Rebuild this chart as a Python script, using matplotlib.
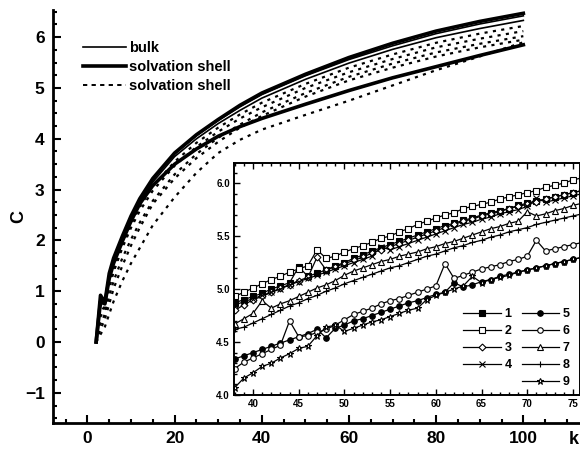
import numpy as np
import matplotlib
matplotlib.use("Agg")
import matplotlib.pyplot as plt
from matplotlib.lines import Line2D
from matplotlib.ticker import MultipleLocator

plt.rcParams['font.family'] = ['Liberation Sans', 'DejaVu Sans']
plt.rcParams['font.weight'] = 'bold'

# main plot: k grid and curves
k_main = [2, 3, 4, 5, 6, 8, 10, 12, 15, 20, 25, 30, 35, 40, 50, 60, 70, 80, 90, 100]
thick_a = [0, 0.92, 0.78, 1.35, 1.65, 2.08, 2.48, 2.82, 3.22, 3.72, 4.08, 4.38, 4.66, 4.90, 5.27, 5.60, 5.88, 6.12, 6.31, 6.47]
thin_a = [0, 0.85, 0.80, 1.30, 1.60, 2.05, 2.45, 2.80, 3.20, 3.70, 4.06, 4.36, 4.63, 4.87, 5.24, 5.56, 5.83, 6.07, 6.26, 6.42]
thin_b = [0, 0.70, 0.85, 1.25, 1.55, 2.00, 2.40, 2.75, 3.15, 3.65, 4.00, 4.30, 4.56, 4.80, 5.17, 5.49, 5.76, 5.99, 6.17, 6.33]
dot_a = [0, 0.60, 0.70, 1.15, 1.45, 1.92, 2.32, 2.66, 3.06, 3.55, 3.92, 4.22, 4.48, 4.71, 5.08, 5.40, 5.66, 5.89, 6.07, 6.22]
dot_b = [0, 0.50, 0.65, 1.05, 1.38, 1.85, 2.25, 2.58, 2.98, 3.47, 3.84, 4.14, 4.40, 4.62, 5.00, 5.31, 5.57, 5.80, 5.97, 6.12]
dot_c = [0, 0.35, 0.55, 0.90, 1.20, 1.65, 2.02, 2.35, 2.78, 3.30, 3.70, 4.02, 4.28, 4.52, 4.90, 5.22, 5.48, 5.70, 5.87, 6.02]
dot_d = [0, 0.25, 0.45, 0.75, 1.05, 1.50, 1.90, 2.25, 2.72, 3.22, 3.62, 3.94, 4.22, 4.45, 4.83, 5.15, 5.40, 5.62, 5.80, 5.95]
thick_b = [0, 0.80, 0.75, 1.25, 1.55, 1.98, 2.38, 2.72, 3.08, 3.50, 3.80, 4.05, 4.24, 4.40, 4.68, 4.95, 5.20, 5.42, 5.64, 5.85]
dot_e = [0, 0.15, 0.30, 0.55, 0.80, 1.20, 1.55, 1.85, 2.30, 2.85, 3.33, 3.72, 3.98, 4.18, 4.47, 4.75, 5.05, 5.35, 5.62, 5.90]

# inset: k = 38..76
k_ins = list(range(38, 77))
s1 = [4.87, 4.90, 4.93, 4.96, 5.00, 5.03, 5.06, 5.21, 5.12, 5.15, 5.18, 5.22, 5.25, 5.29, 5.32, 5.36, 5.39, 5.42, 5.45, 5.48,
      5.51, 5.54, 5.57, 5.60, 5.62, 5.65, 5.67, 5.70, 5.72, 5.74, 5.76, 5.79, 5.81, 5.83, 5.85, 5.87, 5.89, 5.91, 5.93]
s2 = [4.93, 4.97, 5.01, 5.05, 5.09, 5.12, 5.16, 5.19, 5.22, 5.37, 5.29, 5.31, 5.35, 5.38, 5.41, 5.44, 5.48, 5.50, 5.54, 5.57,
      5.61, 5.64, 5.67, 5.70, 5.72, 5.76, 5.78, 5.80, 5.82, 5.85, 5.87, 5.89, 5.91, 5.93, 5.96, 5.98, 6.00, 6.03, 6.05]
s3 = [4.80, 4.85, 4.90, 4.93, 4.97, 5.01, 5.04, 5.08, 5.11, 5.30, 5.18, 5.21, 5.24, 5.27, 5.30, 5.34, 5.37, 5.40, 5.43, 5.46,
      5.49, 5.52, 5.55, 5.58, 5.61, 5.64, 5.66, 5.69, 5.71, 5.73, 5.76, 5.78, 5.80, 5.82, 5.85, 5.87, 5.89, 5.91, 5.93]
s4 = [4.85, 4.88, 4.91, 4.94, 4.97, 5.00, 5.04, 5.07, 5.10, 5.13, 5.16, 5.19, 5.22, 5.25, 5.28, 5.31, 5.40, 5.37, 5.40, 5.43,
      5.46, 5.49, 5.52, 5.55, 5.58, 5.61, 5.63, 5.66, 5.68, 5.71, 5.73, 5.75, 5.78, 5.86, 5.82, 5.84, 5.86, 5.88, 5.90]
s5 = [4.34, 4.37, 4.40, 4.43, 4.46, 4.49, 4.52, 4.55, 4.58, 4.62, 4.54, 4.63, 4.66, 4.70, 4.72, 4.75, 4.78, 4.81, 4.84, 4.87,
      4.89, 4.92, 4.95, 4.97, 5.06, 5.02, 5.04, 5.07, 5.09, 5.12, 5.14, 5.16, 5.18, 5.20, 5.22, 5.24, 5.26, 5.28, 5.30]
s6 = [4.25, 4.31, 4.35, 4.39, 4.43, 4.47, 4.70, 4.55, 4.56, 4.59, 4.62, 4.66, 4.71, 4.76, 4.79, 4.82, 4.86, 4.89, 4.91, 4.94,
      4.97, 5.00, 5.03, 5.24, 5.10, 5.13, 5.16, 5.19, 5.21, 5.23, 5.26, 5.28, 5.31, 5.46, 5.36, 5.38, 5.40, 5.42, 5.44]
s7 = [4.67, 4.72, 4.77, 4.89, 4.82, 4.86, 4.89, 4.93, 4.97, 5.01, 5.04, 5.08, 5.13, 5.17, 5.20, 5.23, 5.26, 5.28, 5.31, 5.33,
      5.35, 5.38, 5.40, 5.43, 5.45, 5.48, 5.51, 5.54, 5.57, 5.59, 5.62, 5.64, 5.73, 5.69, 5.71, 5.74, 5.76, 5.79, 5.81]
s8 = [4.62, 4.64, 4.68, 4.72, 4.76, 4.80, 4.84, 4.87, 4.91, 4.94, 4.98, 5.01, 5.05, 5.08, 5.11, 5.14, 5.17, 5.20, 5.22, 5.25,
      5.28, 5.31, 5.33, 5.36, 5.39, 5.41, 5.44, 5.46, 5.49, 5.51, 5.54, 5.56, 5.58, 5.61, 5.63, 5.65, 5.67, 5.69, 5.71]
s9 = [4.07, 4.16, 4.21, 4.27, 4.30, 4.35, 4.39, 4.44, 4.46, 4.56, 4.64, 4.66, 4.60, 4.63, 4.66, 4.69, 4.71, 4.74, 4.77, 4.80,
      4.82, 4.90, 4.94, 4.97, 5.00, 5.03, 5.12, 5.06, 5.09, 5.11, 5.13, 5.16, 5.18, 5.20, 5.22, 5.24, 5.26, 5.28, 5.30]

ins_series = [s1, s2, s3, s4, s5, s6, s7, s8, s9]
ins_labels = ['1', '2', '3', '4', '5', '6', '7', '8', '9']
ins_markers = ['s', 's', 'D', 'x', 'o', 'o', '^', '+', '*']
ins_filled = [True, False, False, True, True, False, False, True, False]

fig = plt.figure(figsize=(5.8, 4.53), dpi=100)
ax = fig.add_axes([53/580, 30/453, 1 - 53/580, 413/453])

dotted = (0, (1.4, 2.4))
for ys in [dot_a, dot_b, dot_c, dot_d, dot_e]:
    ax.plot(k_main, ys, color='k', lw=1.6, ls=dotted)
ax.plot(k_main, thin_a, color='k', lw=1.2)
ax.plot(k_main, thin_b, color='k', lw=1.2)
ax.plot(k_main, thick_a, color='k', lw=2.6)
ax.plot(k_main, thick_b, color='k', lw=2.6)

ax.set_xlim(-7.9, 113)
ax.set_ylim(-1.594, 6.535)
ax.set_xticks([0, 20, 40, 60, 80, 100])
ax.set_yticks([-1, 0, 1, 2, 3, 4, 5, 6])
ax.xaxis.set_minor_locator(MultipleLocator(5))
ax.yaxis.set_minor_locator(MultipleLocator(0.25))
ax.spines['top'].set_visible(False)
ax.spines['right'].set_visible(False)
ax.spines['left'].set_linewidth(2)
ax.spines['bottom'].set_linewidth(2)
ax.tick_params(which='both', direction='in', width=1.5, labelsize=12.5)
ax.tick_params(which='major', length=6, pad=6)
ax.tick_params(which='minor', length=3)
for t in ax.get_xticklabels() + ax.get_yticklabels():
    t.set_fontweight('bold')
ax.set_ylabel('C', fontsize=13, fontweight='bold', labelpad=-2)
fig.text(574/580, 1 - 440/453, 'k', fontsize=13, fontweight='bold', ha='center', va='center')

main_handles = [Line2D([], [], color='k', lw=1.2),
                Line2D([], [], color='k', lw=2.6),
                Line2D([], [], color='k', lw=1.4, ls=(0, (2.2, 2.2)))]
fig.legend(main_handles, ['bulk', 'solvation shell', 'solvation shell'],
           loc='upper left', bbox_to_anchor=(76/580, 1 - 34/453), frameon=False,
           borderpad=0, handlelength=2.95, handletextpad=0.2, labelspacing=0.32,
           prop={'size': 10.5, 'weight': 'bold'})

# inset
ins = fig.add_axes([234/580, 58/453, 1 - 234/580, 232/453])
handles = []
for ys, lab, m, f in zip(ins_series, ins_labels, ins_markers, ins_filled):
    ms = {'s': 3.8, 'o': 4.0, 'D': 3.5, '^': 4.2, 'x': 4.5, '+': 5, '*': 5}[m]
    h, = ins.plot(k_ins, ys, color='k', lw=0.9, marker=m, ms=ms,
                  mfc='k' if f else 'white', mec='k', mew=0.8, label=lab)
    handles.append(h)
ins.set_xlim(37.92, 75.77)
ins.set_ylim(4.0, 6.19)
ins.set_xticks([40, 45, 50, 55, 60, 65, 70, 75])
ins.set_yticks([4.0, 4.5, 5.0, 5.5, 6.0])
ins.set_yticklabels(['4.0', '4.5', '5.0', '5.5', '6.0'])
ins.xaxis.set_minor_locator(MultipleLocator(1))
ins.yaxis.set_minor_locator(MultipleLocator(0.1))
for s in ins.spines.values():
    s.set_linewidth(1.4)
ins.tick_params(which='both', direction='in', top=True, width=1, labelsize=7, pad=3)
ins.tick_params(which='major', length=4)
ins.tick_params(which='minor', length=2)
for t in ins.get_xticklabels() + ins.get_yticklabels():
    t.set_fontweight('bold')

blank = Line2D([], [], color='none')
leg_h = handles[:4] + [blank] + handles[4:]
leg_l = ins_labels[:4] + [''] + ins_labels[4:]
fig.legend(leg_h, leg_l, loc='upper left', bbox_to_anchor=(457/580, 1 - 302/453),
           ncol=2, frameon=False, borderpad=0, handlelength=3.0, handletextpad=0.3,
           labelspacing=0.4, columnspacing=0.8, prop={'size': 9, 'weight': 'bold'})

fig.savefig('out.png', dpi=100)
